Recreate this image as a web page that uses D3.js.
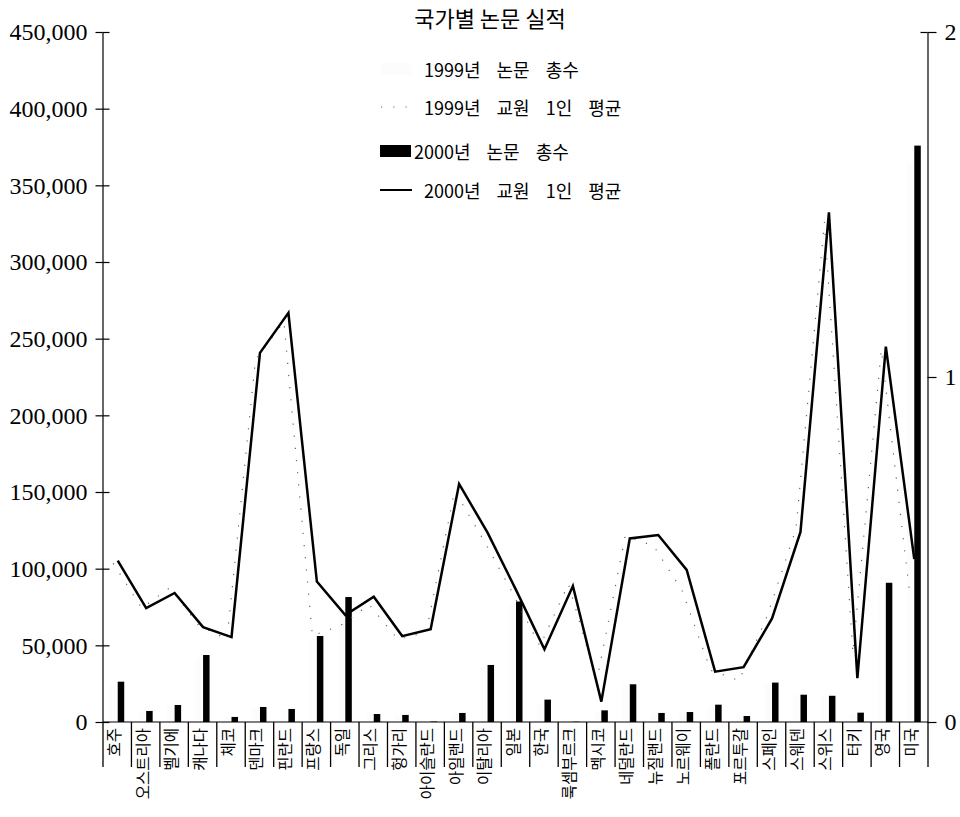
<!DOCTYPE html>
<html><head><meta charset="utf-8">
<script src="https://cdn.jsdelivr.net/npm/d3@7/dist/d3.min.js"></script>
<style>
html,body{margin:0;padding:0;background:#fff;}
svg{display:block;}
</style></head>
<body>
<svg id="chart" width="960" height="817"></svg>
<script>
const categories = ["호주","오스트리아","벨기에","캐나다","체코","덴마크","핀란드","프랑스","독일","그리스","헝가리","아이슬란드","아일랜드","이탈리아","일본","한국","룩셈부르크","멕시코","네덜란드","뉴질랜드","노르웨이","폴란드","포르투갈","스페인","스웨덴","스위스","터키","영국","미국"];
const papers1999 = [25000,7000,10500,42000,3000,9500,8000,54000,79000,4800,4300,250,5500,35500,76000,12000,150,7000,24000,5600,6200,10800,3500,24500,17500,16500,5200,88000,365000];
const papers2000 = [26300,7200,11100,43700,3300,9800,8500,56100,81500,5200,4600,300,5900,37200,78600,14600,200,7600,24600,5900,6500,11300,3900,25700,17800,17100,6100,90800,375900];
const avg1999 = [0.46,0.33,0.39,0.28,0.24,1.05,1.16,0.25,0.28,0.34,0.24,0.26,0.67,0.53,0.38,0.22,0.40,0.12,0.54,0.51,0.38,0.15,0.12,0.31,0.56,1.45,0.20,1.08,0.37];
const avg2000 = [0.468,0.330,0.374,0.275,0.246,1.070,1.186,0.407,0.310,0.363,0.249,0.269,0.690,0.549,0.383,0.211,0.394,0.059,0.532,0.542,0.441,0.146,0.159,0.300,0.551,1.477,0.127,1.088,0.472];
const leftTicks = [0,50000,100000,150000,200000,250000,300000,350000,400000,450000];
const rightTicks = [0,1,2];
const title = "국가별 논문 실적";
const legendLabels = ["1999년 논문 총수","1999년 교원 1인 평균","2000년 논문 총수","2000년 교원 1인 평균"];

const svg = d3.select("#chart");
const x = d3.scaleBand().domain(categories).range([103, 928]);
const bw = x.bandwidth();
const yL = d3.scaleLinear().domain([0,450000]).range([722,32]);
const yR = d3.scaleLinear().domain([0,2]).range([722,32]);
const cx = c => x(c) + bw/2;

const serif = "'Liberation Serif','DejaVu Serif',serif";
const kr = "'Noto Sans CJK KR','Noto Sans',sans-serif";
const pale = "#fcfcfc";

// bars
const barW = 6.5;
svg.append("g").selectAll("rect").data(categories).join("rect")
  .attr("x", c => cx(c) - barW - 0.5)
  .attr("width", barW)
  .attr("y", (c,i) => yL(papers1999[i]))
  .attr("height", (c,i) => yL(0) - yL(papers1999[i]))
  .attr("fill", pale);
svg.append("g").selectAll("rect").data(categories).join("rect")
  .attr("x", c => cx(c) + 0.5)
  .attr("width", barW)
  .attr("y", (c,i) => yL(papers2000[i]))
  .attr("height", (c,i) => yL(0) - yL(papers2000[i]))
  .attr("fill", "#000");

// lines
const line99 = d3.line().x((d,i) => cx(categories[i]) - 4).y(d => yR(d));
const line00 = d3.line().x((d,i) => cx(categories[i]) + 0.5).y(d => yR(d));
svg.append("path").attr("d", line99(avg1999)).attr("fill","none")
  .attr("stroke","#666").attr("stroke-width",1.2).attr("stroke-dasharray","1.2,11");
svg.append("path").attr("d", line00(avg2000)).attr("fill","none")
  .attr("stroke","#000").attr("stroke-width",2.5).attr("stroke-linejoin","miter");

// left axis
const gL = svg.append("g").attr("transform","translate(102.5,0)")
  .call(d3.axisLeft(yL).tickValues(leftTicks).tickFormat(d3.format(",")).tickSizeInner(7).tickSizeOuter(0).tickPadding(8));
svg.append("g").attr("transform","translate(102.5,0)")
  .call(d3.axisRight(yL).tickValues(leftTicks).tickFormat("").tickSizeInner(7).tickSizeOuter(0))
  .select(".domain").remove();
gL.selectAll("text").attr("font-family", serif).attr("font-size", 24).attr("fill","#000");

// right axis
const gR = svg.append("g").attr("transform","translate(927.5,0)")
  .call(d3.axisRight(yR).tickValues(rightTicks).tickFormat(d3.format("d")).tickSizeInner(9).tickSizeOuter(0).tickPadding(8));
gR.selectAll("text").attr("font-family", serif).attr("font-size", 24).attr("fill","#000");
svg.append("g").attr("transform","translate(927.5,0)")
  .call(d3.axisLeft(yR).tickValues([2]).tickFormat("").tickSizeInner(7).tickSizeOuter(0))
  .select(".domain").remove();
svg.selectAll(".domain, .tick line").attr("stroke","#000").attr("stroke-width",1.2);

// baseline & category separators
svg.append("line").attr("x1",102.5).attr("x2",928).attr("y1",yL(0)).attr("y2",yL(0))
  .attr("stroke","#000").attr("stroke-width",1.2);
const seps = categories.map(c => x(c)).concat([x(categories[categories.length-1]) + bw]);
svg.append("g").selectAll("line").data(seps).join("line")
  .attr("x1", d => d).attr("x2", d => d)
  .attr("y1", yL(0)).attr("y2", yL(0) + 45)
  .attr("stroke","#000").attr("stroke-width",1.3);

// category labels
svg.append("g").selectAll("text").data(categories).join("text")
  .attr("transform", c => `translate(${cx(c) - 4},${yL(0) + 6}) rotate(-90)`)
  .attr("text-anchor","end").attr("dominant-baseline","central")
  .attr("font-family", kr).attr("font-size", 15.5).attr("fill","#000")
  .text(c => c);

// title
svg.append("text").attr("x", 490).attr("y", 27).attr("text-anchor","middle")
  .attr("font-family", kr).attr("font-size", 22).attr("fill","#000").text(title);

// legend
const legY = [69, 107, 151, 190];
const lg = svg.append("g").attr("font-family", kr).attr("font-size", 18).attr("fill","#000");
legendLabels.forEach((t,i) => {
  lg.append("text").attr("x", i === 2 ? 414 : 424).attr("y", legY[i])
    .attr("dominant-baseline","central").attr("word-spacing", 12).text(t);
});
lg.append("rect").attr("x", 381).attr("y", legY[0]-6).attr("width", 31).attr("height", 12).attr("fill",pale);
lg.append("line").attr("x1",381).attr("x2",412).attr("y1",legY[1]).attr("y2",legY[1])
  .attr("stroke","#666").attr("stroke-width",1.2).attr("stroke-dasharray","1.2,11");
lg.append("rect").attr("x", 380).attr("y", legY[2]-6).attr("width", 31).attr("height", 12).attr("fill","#000");
lg.append("line").attr("x1",380).attr("x2",412).attr("y1",legY[3]).attr("y2",legY[3])
  .attr("stroke","#000").attr("stroke-width",2);
</script>
</body></html>
